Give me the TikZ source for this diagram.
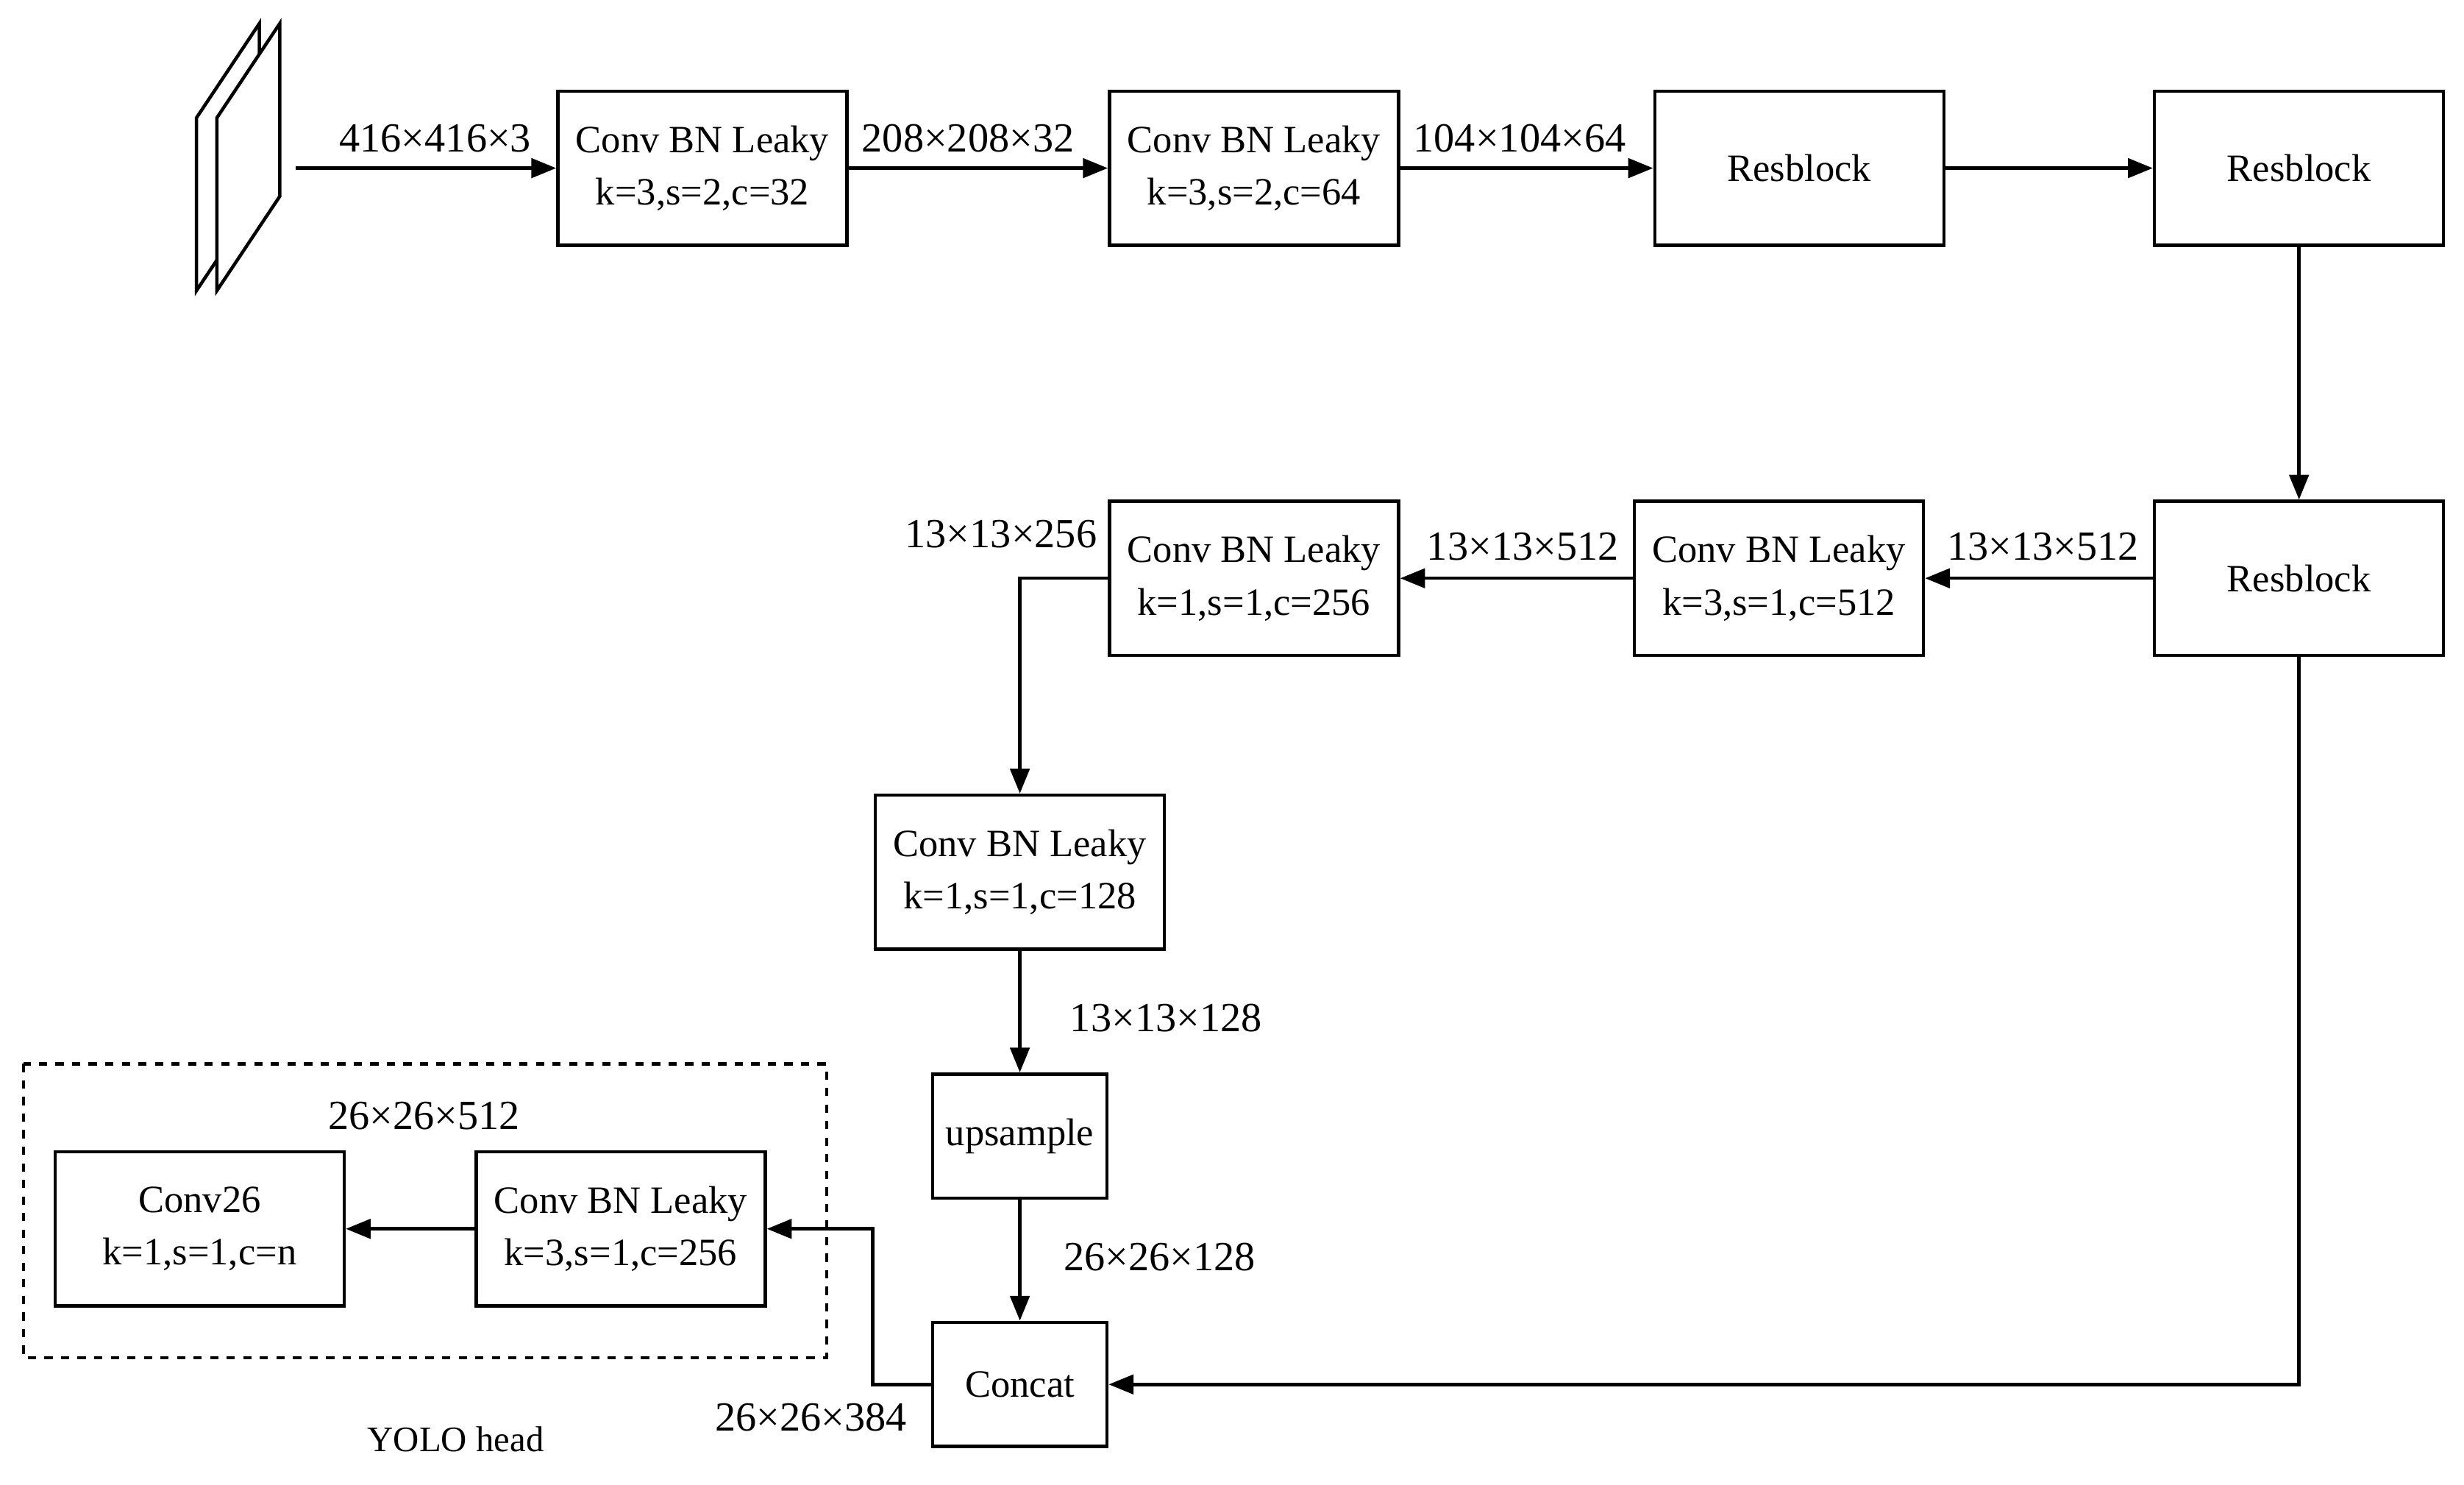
\documentclass[tikz,border=0pt]{standalone}
\usepackage{fontspec}
\setmainfont{Liberation Serif}
\usetikzlibrary{arrows.meta}
\begin{document}
\begin{tikzpicture}[x=0.02cm,y=-0.02cm,
  box/.style={draw,line width=1.2pt,minimum width=3.68cm,minimum height=1.96cm,align=center,font=\fontsize{14}{19}\selectfont,inner sep=0pt},
  sbox/.style={box,minimum width=2.22cm,minimum height=1.58cm},
  lab/.style={font=\fontsize{15}{18}\selectfont,inner sep=0pt},
  arr/.style={-{Triangle[length=9pt,width=7pt]},line width=1.2pt},
  ln/.style={line width=1.2pt}]
\useasboundingbox (0,0) rectangle (1568,945);
\draw[ln,fill=white] (125,185) -- (125,75) -- (165,15) -- (165,125) -- cycle;
\draw[ln,fill=white] (138,185) -- (138,75) -- (178,15) -- (178,125) -- cycle;
\coordinate (img) at (188,107);
\node[box] (b1) at (447,107) {Conv BN Leaky\\k=3,s=2,c=32};
\node[box] (b2) at (798,107) {Conv BN Leaky\\k=3,s=2,c=64};
\node[box] (r1) at (1145,107) {Resblock};
\node[box] (r2) at (1463,107) {Resblock};
\node[box] (r3) at (1463,368) {Resblock};
\node[box] (b3) at (1132,368) {Conv BN Leaky\\k=3,s=1,c=512};
\node[box] (b4) at (798,368) {Conv BN Leaky\\k=1,s=1,c=256};
\node[box] (b5) at (649,555) {Conv BN Leaky\\k=1,s=1,c=128};
\node[sbox] (up) at (649,723) {upsample};
\node[sbox] (cc) at (649,881) {Concat};
\node[box] (b6) at (395,782) {Conv BN Leaky\\k=3,s=1,c=256};
\node[box] (c26) at (127,782) {Conv26\\k=1,s=1,c=n};
\draw[ln,dashed] (15,677) rectangle (526,864);
\draw[arr] (img) -- (b1);
\draw[arr] (b1) -- (b2);
\draw[arr] (b2) -- (r1);
\draw[arr] (r1) -- (r2);
\draw[arr] (r2) -- (r3);
\draw[arr] (r3) -- (b3);
\draw[arr] (b3) -- (b4);
\draw[arr] (b4.west) -| (b5.north);
\draw[arr] (b5) -- (up);
\draw[arr] (up) -- (cc);
\draw[arr] (r3.south) |- (cc.east);
\draw[arr] (cc.west) -- ++(-37,0) |- (b6.east);
\draw[arr] (b6) -- (c26);
\node[lab] at (277,88) {416×416×3};
\node[lab] at (616,88) {208×208×32};
\node[lab] at (967,88) {104×104×64};
\node[lab] at (1300,348) {13×13×512};
\node[lab] at (969,348) {13×13×512};
\node[lab] at (637,340) {13×13×256};
\node[lab] at (742,648) {13×13×128};
\node[lab] at (738,800) {26×26×128};
\node[lab] at (516,902) {26×26×384};
\node[lab] at (270,710) {26×26×512};
\node[lab,font=\fontsize{13}{16}\selectfont] at (290,916) {YOLO head};
\end{tikzpicture}
\end{document}
